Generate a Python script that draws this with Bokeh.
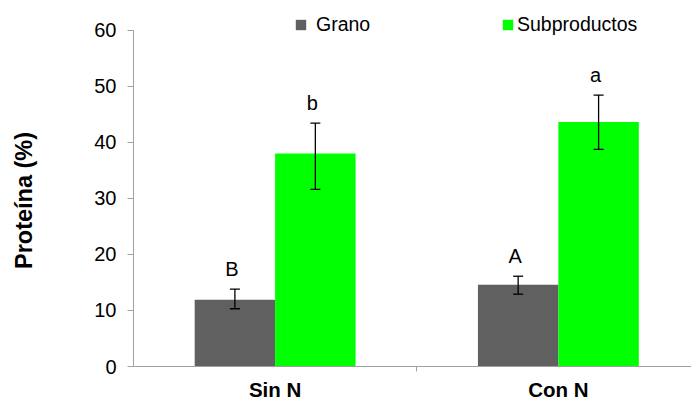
from bokeh.plotting import figure
from bokeh.models import (FixedTicker, Legend, LegendItem, ColumnDataSource,
                          Range1d)
from bokeh.core.properties import value
from bokeh.embed import file_html
from bokeh.resources import INLINE

# ---- data ----
categories = ["Sin N", "Con N"]
series = ["Grano", "Subproductos"]
grano = [11.9, 14.6]
grano_low = [10.3, 12.9]
grano_high = [13.8, 16.1]
subprod = [38.0, 43.6]
subprod_low = [31.6, 38.7]
subprod_high = [43.4, 48.4]
grano_letters = ["B", "A"]
subprod_letters = ["b", "a"]
y_ticks = [0, 10, 20, 30, 40, 50, 60]
colors = ["#606060", "#00ff00"]

FONT = "Liberation Sans"
BAR_W = 0.284
AXIS_GRAY = "#a0a0a0"
Y_VIEW = (-6.06, 65.26)   # visible span incl. room for labels/legend

centers = [i + 1 for i in range(len(categories))]
separators = [c + 0.5 for c in centers[:-1]]

p = figure(width=691, height=400,
           x_range=Range1d(0.5, 2.47), y_range=Range1d(*Y_VIEW),
           output_backend="svg", toolbar_location=None,
           min_border_left=133, min_border_right=0,
           min_border_top=0, min_border_bottom=0)
p.grid.visible = False
p.outline_line_color = None
p.background_fill_color = "white"
p.border_fill_color = "white"

src_g = ColumnDataSource(dict(x=[c - BAR_W / 2 for c in centers], top=grano,
                              lower=grano_low, upper=grano_high, txt=grano_letters))
src_s = ColumnDataSource(dict(x=[c + BAR_W / 2 for c in centers], top=subprod,
                              lower=subprod_low, upper=subprod_high, txt=subprod_letters))

r_g = p.vbar(x="x", top="top", bottom=0, width=BAR_W, source=src_g,
             fill_color=colors[0], line_color=None)
r_s = p.vbar(x="x", top="top", bottom=0, width=BAR_W, source=src_s,
             fill_color=colors[1], line_color=None)

for src in (src_g, src_s):
    p.segment(x0="x", y0="lower", x1="x", y1="upper", source=src,
              line_color="black", line_width=1.3)
    for end in ("lower", "upper"):
        p.scatter(x="x", y=end, source=src, marker="dash", size=10,
                  line_color="black", line_width=1.3)
    p.text(x="x", y="upper", text="txt", source=src,
           text_font=value(FONT), text_font_size="20px", text_color="black",
           text_align="center", text_baseline="alphabetic",
           x_offset=-3, y_offset=-20)

# ---- axes ----
xa = p.xaxis[0]
xa.fixed_location = 0
xa.ticker = FixedTicker(ticks=centers, minor_ticks=separators)
xa.major_label_overrides = {c: lab for c, lab in zip(centers, categories)}
xa.major_tick_line_color = None
xa.major_tick_out = 0
xa.major_tick_in = 0
xa.minor_tick_out = 5
xa.minor_tick_in = 0
xa.minor_tick_line_color = AXIS_GRAY
xa.axis_line_color = AXIS_GRAY
xa.major_label_standoff = 6
xa.major_label_text_font = FONT
xa.major_label_text_font_style = "bold"
xa.major_label_text_font_size = "20.5px"
xa.major_label_text_color = "black"

ya = p.yaxis[0]
ya.bounds = (y_ticks[0], y_ticks[-1])
ya.ticker = FixedTicker(ticks=y_ticks, minor_ticks=[])
ya.major_tick_out = 6
ya.major_tick_in = 0
ya.major_tick_line_color = AXIS_GRAY
ya.axis_line_color = AXIS_GRAY
ya.major_label_standoff = 11
ya.major_label_text_font = FONT
ya.major_label_text_font_size = "20px"
ya.major_label_text_color = "black"
ya.axis_label = "Proteína (%)"
ya.axis_label_text_font = FONT
ya.axis_label_text_font_style = "bold"
ya.axis_label_text_font_size = "23.5px"
ya.axis_label_text_color = "black"
ya.axis_label_standoff = 54

# ---- legends ----
for r, name, loc, st in ((r_g, series[0], (161, 364), 9), (r_s, series[1], (368, 364), 3)):
    leg = Legend(items=[LegendItem(label=name, renderers=[r])], location=loc,
                 border_line_color=None, background_fill_alpha=0,
                 padding=0, margin=0, spacing=0,
                 glyph_width=13, glyph_height=13, label_standoff=st,
                 label_text_font=FONT, label_text_font_size="19.5px",
                 label_text_color="black")
    p.add_layout(leg)

open("out.html", "w").write(file_html(p, INLINE))
